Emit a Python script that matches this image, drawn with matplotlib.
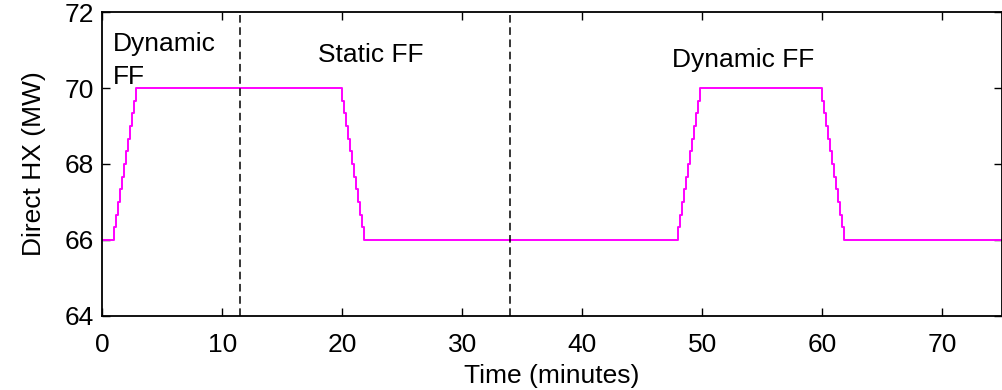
import matplotlib
matplotlib.use("Agg")
import matplotlib.pyplot as plt
import numpy as np

plt.rcParams['font.family'] = ['Liberation Sans', 'DejaVu Sans']

# Commande "Direct HX" échantillonnée toutes les 10 s (temps en secondes)
rampe_montee = [66.33, 66.67, 67.0, 67.33, 67.67, 68.0, 68.33, 68.67, 69.0, 69.33, 69.67, 70.0]
rampe_descente = [69.67, 69.33, 69.0, 68.67, 68.33, 68.0, 67.67, 67.33, 67.0, 66.67, 66.33, 66.0]

t_sec = ([0]
         + [60, 70, 80, 90, 100, 110, 120, 130, 140, 150, 160, 170]
         + [1200, 1210, 1220, 1230, 1240, 1250, 1260, 1270, 1280, 1290, 1300, 1310]
         + [2880, 2890, 2900, 2910, 2920, 2930, 2940, 2950, 2960, 2970, 2980, 2990]
         + [3600, 3610, 3620, 3630, 3640, 3650, 3660, 3670, 3680, 3690, 3700, 3710]
         + [4500])
hx = [66.0] + rampe_montee + rampe_descente + rampe_montee + rampe_descente + [66.0]

separations = [11.5, 34.0]  # minutes
labels = [("Dynamic", 0.85, 70.98), ("FF", 0.85, 70.11),
          ("Static FF", 17.96, 70.69), ("Dynamic FF", 47.5, 70.56)]

t_min = np.array(t_sec) / 60.0

fig = plt.figure(figsize=(10.03, 3.9), dpi=100)
ax = fig.add_axes([0.102, 0.19, 0.897, 0.779])

ax.plot(t_min, hx, color='#ff00ff', linewidth=1.4, drawstyle='steps-post')
for xs in separations:
    ax.axvline(xs, color='k', linestyle=(0, (5, 3)), linewidth=1.1)

for txt, x, y in labels:
    ax.text(x, y, txt, fontsize=19, va='baseline', ha='left')

ax.set_xlim(0, 75)
ax.set_ylim(64, 72)
ax.set_xticks(np.arange(0, 71, 10))
ax.set_yticks(np.arange(64, 73, 2))
ax.tick_params(direction='in', length=6, width=1.0, top=True, right=True,
               labelsize=19)
ax.tick_params(axis='x', pad=12)
ax.tick_params(axis='y', pad=6)
for sp in ax.spines.values():
    sp.set_linewidth(1.3)

ax.set_xlabel('Time (minutes)', fontsize=19, labelpad=5)
ax.set_ylabel('Direct HX (MW)', fontsize=19, labelpad=13)

plt.savefig("out.png", dpi=100)
